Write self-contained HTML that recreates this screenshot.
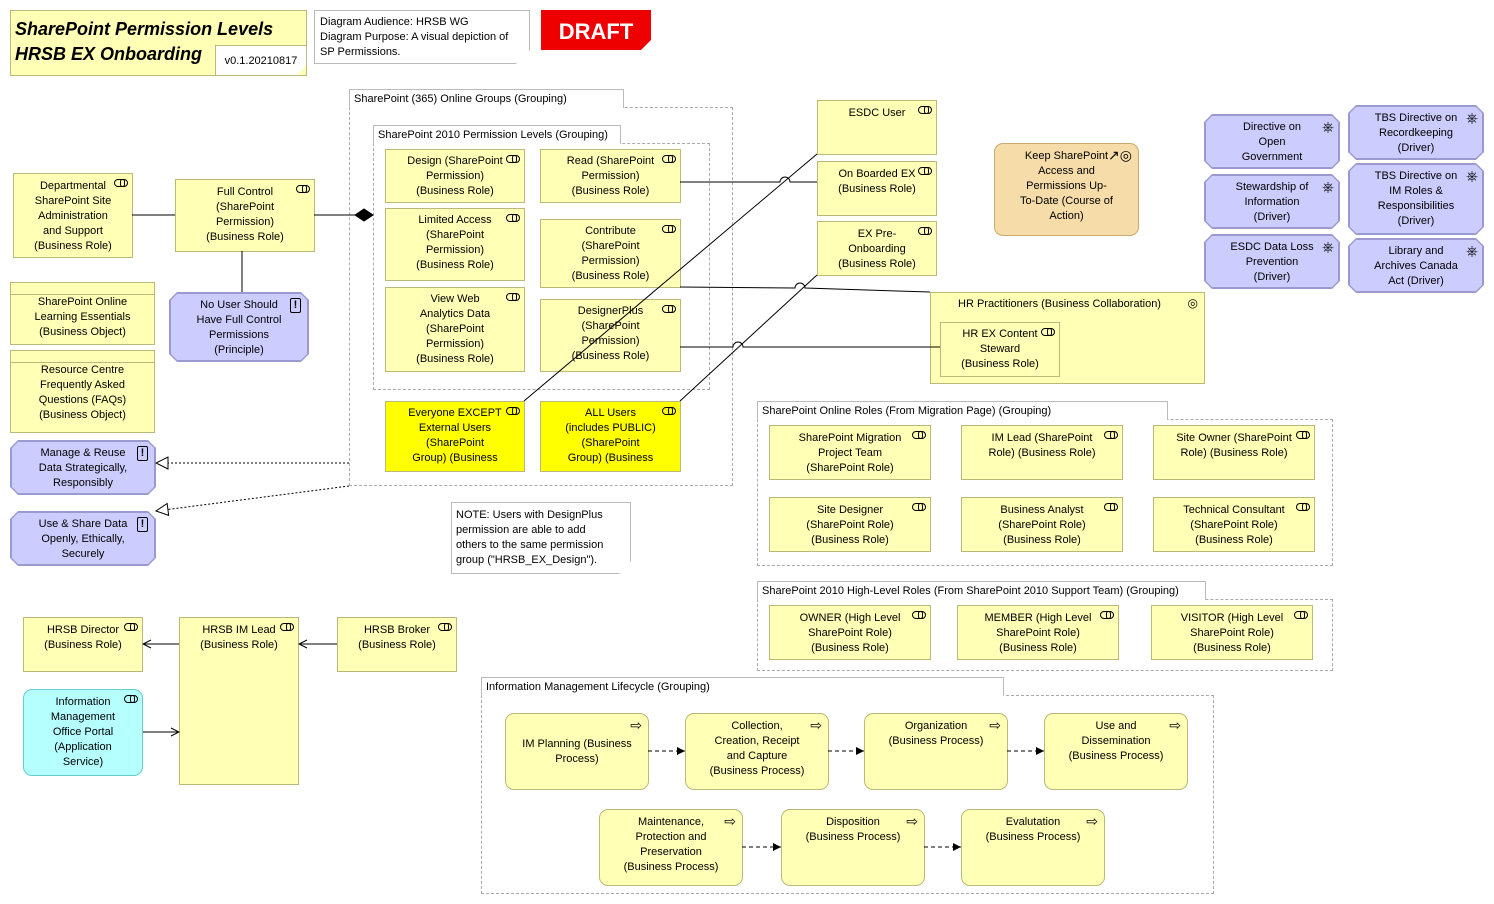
<!DOCTYPE html>
<html><head><meta charset="utf-8"><style>
body{margin:0;width:1494px;height:904px;background:#fff;position:relative;overflow:hidden;font-family:"Liberation Sans",sans-serif;font-size:11px;color:#000}
.b{position:absolute;box-sizing:border-box;background:#ffffb5;border:1px solid #b9b97a;text-align:center;line-height:15px;padding:3px 16px 0 16px}
.y{background:#ffff00}
.p{background:#ccccff;border-color:#9a9ad0;clip-path:polygon(8px 0,calc(100% - 8px) 0,100% 8px,100% calc(100% - 8px),calc(100% - 8px) 100%,8px 100%,0 calc(100% - 8px),0 8px)}
.pb{position:absolute;background:#9a9ad0;clip-path:polygon(8px 0,calc(100% - 8px) 0,100% 8px,100% calc(100% - 8px),calc(100% - 8px) 100%,8px 100%,0 calc(100% - 8px),0 8px)}
.r{border-radius:9px}
.g{position:absolute;box-sizing:border-box;border:1px dashed #aaa}
.gt{position:absolute;box-sizing:border-box;border:1px solid #bbb;border-bottom:none;background:#fff;padding:2px 4px;line-height:14px;white-space:nowrap}
.ic{position:absolute;right:4px;top:5px;width:14px;height:8px;border:1px solid #000;border-radius:4px;box-sizing:border-box}
.ic:after{content:"";position:absolute;right:2px;top:-1px;width:5px;height:8px;border:1px solid #000;border-radius:4px;box-sizing:border-box}
.ex{position:absolute;right:6px;top:4px;width:9px;height:13px;border:1px solid #000;border-radius:2px;font-weight:bold;font-size:11px;line-height:13px;text-align:center}
.dr{position:absolute;right:4px;top:4px;font-size:15px;line-height:15px}
.pr{position:absolute;right:6px;top:4px;font-size:14px;line-height:14px}
.v{display:flex;align-items:center;justify-content:center;padding-top:0}
.nw{white-space:nowrap;padding-left:4px!important;padding-right:4px!important}
.clip{height:60px;overflow:hidden}
</style></head><body>

<!-- title -->
<div class="b" style="left:10px;top:10px;width:297px;height:66px;text-align:left;padding:6px 4px;font-weight:bold;font-style:italic;font-size:18px;line-height:25px">SharePoint Permission Levels<br>HRSB EX Onboarding</div>
<div class="b" style="left:215px;top:45px;width:92px;height:31px;background:#fff;padding:8px 0 0;font-size:11px;clip-path:polygon(0 0,100% 0,100% 60%,calc(100% - 10px) 100%,0 100%)">v0.1.20210817</div>
<div class="b" style="left:314px;top:10px;width:216px;height:54px;background:#fff;border-color:#bbb;text-align:left;padding:4px 5px;clip-path:polygon(0 0,100% 0,100% 75%,calc(100% - 14px) 100%,0 100%)">Diagram Audience: HRSB WG<br>Diagram Purpose: A visual depiction of SP Permissions.</div>
<div style="position:absolute;left:541px;top:10px;width:110px;height:40px;background:#ee0000;color:#fff;font-weight:bold;font-size:22px;line-height:44px;text-align:center;clip-path:polygon(0 0,100% 0,100% 75%,calc(100% - 10px) 100%,0 100%)">DRAFT</div>

<!-- groups -->
<div class="g" style="left:349px;top:107px;width:384px;height:379px"></div>
<div class="gt" style="left:349px;top:89px;width:275px;height:19px">SharePoint (365) Online Groups (Grouping)</div>
<div class="g" style="left:373px;top:143px;width:337px;height:247px"></div>
<div class="gt" style="left:373px;top:125px;width:248px;height:19px">SharePoint 2010 Permission Levels (Grouping)</div>
<div class="g" style="left:757px;top:419px;width:576px;height:147px"></div>
<div class="gt" style="left:757px;top:401px;width:411px;height:19px">SharePoint Online Roles (From Migration Page) (Grouping)</div>
<div class="g" style="left:757px;top:599px;width:576px;height:72px"></div>
<div class="gt" style="left:757px;top:581px;width:449px;height:19px">SharePoint 2010 High-Level Roles (From SharePoint 2010 Support Team) (Grouping)</div>
<div class="g" style="left:481px;top:695px;width:733px;height:199px"></div>
<div class="gt" style="left:481px;top:677px;width:523px;height:19px">Information Management Lifecycle (Grouping)</div>

<!-- left -->
<div class="b" style="left:13px;top:173px;width:120px;height:85px;padding-top:5px">Departmental SharePoint Site Administration and Support (Business Role)<span class="ic"></span></div>
<div class="b" style="left:175px;top:179px;width:140px;height:73px;padding:5px 22px 0">Full Control (SharePoint Permission) (Business Role)<span class="ic"></span></div>
<div class="b" style="left:10px;top:282px;width:145px;height:63px;padding-top:12px;background:linear-gradient(#ffffb5 11px,#b9b97a 11px,#b9b97a 12px,#ffffb5 12px)">SharePoint Online Learning Essentials (Business Object)</div>
<div class="b" style="left:10px;top:350px;width:145px;height:83px;padding-top:12px;background:linear-gradient(#ffffb5 11px,#b9b97a 11px,#b9b97a 12px,#ffffb5 12px)">Resource Centre Frequently Asked Questions (FAQs) (Business Object)</div>
<div class="pb" style="left:169px;top:292px;width:140px;height:70px"></div>
<div class="b p" style="left:170px;top:293px;width:138px;height:68px;padding-top:4px">No User Should Have Full Control Permissions (Principle)<span class="ex">!</span></div>
<div class="pb" style="left:10px;top:440px;width:146px;height:55px"></div>
<div class="b p" style="left:11px;top:441px;width:144px;height:53px;padding-top:4px">Manage &amp; Reuse Data Strategically, Responsibly<span class="ex">!</span></div>
<div class="pb" style="left:10px;top:511px;width:146px;height:55px"></div>
<div class="b p" style="left:11px;top:512px;width:144px;height:53px;padding-top:4px">Use &amp; Share Data Openly, Ethically, Securely<span class="ex">!</span></div>

<!-- permission levels -->
<div class="b" style="left:385px;top:149px;width:140px;height:54px;padding:4px 18px 0">Design (SharePoint Permission) (Business Role)<span class="ic"></span></div>
<div class="b" style="left:540px;top:149px;width:141px;height:54px;padding:4px 22px 0">Read (SharePoint Permission) (Business Role)<span class="ic"></span></div>
<div class="b" style="left:385px;top:208px;width:140px;height:73px;padding:4px 22px 0">Limited Access (SharePoint Permission) (Business Role)<span class="ic"></span></div>
<div class="b" style="left:540px;top:219px;width:141px;height:69px;padding:4px 22px 0">Contribute (SharePoint Permission) (Business Role)<span class="ic"></span></div>
<div class="b" style="left:385px;top:287px;width:140px;height:85px;padding:4px 28px 0">View Web Analytics Data (SharePoint Permission) (Business Role)<span class="ic"></span></div>
<div class="b" style="left:540px;top:299px;width:141px;height:73px;padding:4px 22px 0">DesignerPlus (SharePoint Permission) (Business Role)<span class="ic"></span></div>
<div class="b y nw" style="left:385px;top:401px;width:140px;height:71px;padding-top:4px"><div class="clip">Everyone EXCEPT<br>External Users<br>(SharePoint<br>Group) (Business<br>Role)</div><span class="ic"></span></div>
<div class="b y nw" style="left:540px;top:401px;width:141px;height:71px;padding-top:4px"><div class="clip">ALL Users<br>(includes PUBLIC)<br>(SharePoint<br>Group) (Business<br>Role)</div><span class="ic"></span></div>

<!-- right column -->
<div class="b" style="left:817px;top:100px;width:120px;height:55px;padding-top:5px">ESDC User<span class="ic"></span></div>
<div class="b" style="left:817px;top:161px;width:120px;height:55px;padding-top:5px">On Boarded EX (Business Role)<span class="ic"></span></div>
<div class="b nw" style="left:817px;top:221px;width:120px;height:55px;padding-top:5px">EX Pre-<br>Onboarding<br>(Business Role)<span class="ic"></span></div>
<div class="b r" style="left:994px;top:143px;width:145px;height:93px;background:#f5dca8;border-color:#c8aa70;padding:5px 24px 0">Keep SharePoint Access and Permissions Up-To-Date (Course of Action)<span class="pr">↗◎</span></div>
<div class="b" style="left:930px;top:292px;width:275px;height:92px;text-align:left;padding:4px 0 0 27px">HR Practitioners (Business Collaboration)<span style="position:absolute;right:6px;top:3px;font-size:12px">◎</span></div>
<div class="b" style="left:940px;top:322px;width:120px;height:55px;padding-top:4px">HR EX Content Steward (Business Role)<span class="ic"></span></div>

<!-- drivers -->
<div class="pb" style="left:1204px;top:114px;width:136px;height:55px"></div>
<div class="b p nw" style="left:1205px;top:115px;width:134px;height:53px;padding-top:4px">Directive on<br>Open<br>Government<span class="dr">⎈</span></div>
<div class="pb" style="left:1204px;top:174px;width:136px;height:55px"></div>
<div class="b p nw" style="left:1205px;top:175px;width:134px;height:53px;padding-top:4px">Stewardship of<br>Information<br>(Driver)<span class="dr">⎈</span></div>
<div class="pb" style="left:1204px;top:234px;width:136px;height:55px"></div>
<div class="b p nw" style="left:1205px;top:235px;width:134px;height:53px;padding-top:4px">ESDC Data Loss<br>Prevention<br>(Driver)<span class="dr">⎈</span></div>
<div class="pb" style="left:1348px;top:105px;width:136px;height:55px"></div>
<div class="b p nw" style="left:1349px;top:106px;width:134px;height:53px;padding-top:4px">TBS Directive on<br>Recordkeeping<br>(Driver)<span class="dr">⎈</span></div>
<div class="pb" style="left:1348px;top:163px;width:136px;height:72px"></div>
<div class="b p nw" style="left:1349px;top:164px;width:134px;height:70px;padding-top:4px">TBS Directive on<br>IM Roles &amp;<br>Responsibilities<br>(Driver)<span class="dr">⎈</span></div>
<div class="pb" style="left:1348px;top:238px;width:136px;height:55px"></div>
<div class="b p nw" style="left:1349px;top:239px;width:134px;height:53px;padding-top:4px">Library and<br>Archives Canada<br>Act (Driver)<span class="dr">⎈</span></div>

<!-- online roles -->
<div class="b" style="left:769px;top:425px;width:162px;height:55px;padding:5px 22px 0">SharePoint Migration Project Team (SharePoint Role)<span class="ic"></span></div>
<div class="b" style="left:961px;top:425px;width:162px;height:55px;padding:5px 22px 0">IM Lead (SharePoint Role) (Business Role)<span class="ic"></span></div>
<div class="b" style="left:1153px;top:425px;width:162px;height:55px;padding:5px 20px 0">Site Owner (SharePoint Role) (Business Role)<span class="ic"></span></div>
<div class="b" style="left:769px;top:497px;width:162px;height:55px;padding:5px 26px 0">Site Designer (SharePoint Role) (Business Role)<span class="ic"></span></div>
<div class="b" style="left:961px;top:497px;width:162px;height:55px;padding:5px 26px 0">Business Analyst (SharePoint Role) (Business Role)<span class="ic"></span></div>
<div class="b" style="left:1153px;top:497px;width:162px;height:55px;padding:5px 22px 0">Technical Consultant (SharePoint Role) (Business Role)<span class="ic"></span></div>
<div class="b" style="left:769px;top:605px;width:162px;height:55px;padding:5px 26px 0">OWNER (High Level SharePoint Role) (Business Role)<span class="ic"></span></div>
<div class="b" style="left:957px;top:605px;width:162px;height:55px;padding:5px 26px 0">MEMBER (High Level SharePoint Role) (Business Role)<span class="ic"></span></div>
<div class="b" style="left:1151px;top:605px;width:162px;height:55px;padding:5px 26px 0">VISITOR (High Level SharePoint Role) (Business Role)<span class="ic"></span></div>

<!-- note -->
<div class="b" style="left:451px;top:502px;width:180px;height:72px;background:#fff;border-color:#bbb;text-align:left;padding:5px 4px;white-space:nowrap;clip-path:polygon(0 0,100% 0,100% 82%,calc(100% - 12px) 100%,0 100%)">NOTE: Users with DesignPlus<br>permission are able to add<br>others to the same permission<br>group ("HRSB_EX_Design").</div>

<!-- HRSB -->
<div class="b" style="left:23px;top:617px;width:120px;height:55px;padding-top:5px">HRSB Director (Business Role)<span class="ic"></span></div>
<div class="b" style="left:179px;top:617px;width:120px;height:168px;padding-top:5px">HRSB IM Lead (Business Role)<span class="ic"></span></div>
<div class="b" style="left:337px;top:617px;width:120px;height:55px;padding-top:5px">HRSB Broker (Business Role)<span class="ic"></span></div>
<div class="b r" style="left:23px;top:689px;width:120px;height:87px;background:#b5ffff;border-color:#6cc;padding:5px 22px 0">Information Management Office Portal (Application Service)<span class="ic" style="border-radius:5px"></span></div>

<!-- processes -->
<div class="b r v" style="left:505px;top:713px;width:144px;height:77px">IM Planning (Business Process)<span class="pr">⇨</span></div>
<div class="b r" style="left:685px;top:713px;width:144px;height:77px;padding:5px 22px 0">Collection, Creation, Receipt and Capture (Business Process)<span class="pr">⇨</span></div>
<div class="b r" style="left:864px;top:713px;width:144px;height:77px;padding-top:5px">Organization (Business Process)<span class="pr">⇨</span></div>
<div class="b r" style="left:1044px;top:713px;width:144px;height:77px;padding:5px 22px 0">Use and Dissemination (Business Process)<span class="pr">⇨</span></div>
<div class="b r" style="left:599px;top:809px;width:144px;height:77px;padding:5px 22px 0">Maintenance, Protection and Preservation (Business Process)<span class="pr">⇨</span></div>
<div class="b r" style="left:781px;top:809px;width:144px;height:77px;padding:5px 22px 0">Disposition (Business Process)<span class="pr">⇨</span></div>
<div class="b r" style="left:961px;top:809px;width:144px;height:77px;padding:5px 22px 0">Evalutation (Business Process)<span class="pr">⇨</span></div>

<svg width="1494" height="904" style="position:absolute;left:0;top:0;pointer-events:none">
<defs>
<marker id="op" markerWidth="14" markerHeight="14" refX="13" refY="7" orient="auto" markerUnits="userSpaceOnUse"><path d="M1,1 L13,7 L1,13 Z" fill="#fff" stroke="#000"/></marker>
<marker id="ar" markerWidth="10" markerHeight="10" refX="9" refY="5" orient="auto" markerUnits="userSpaceOnUse"><path d="M1,1 L9,5 L1,9" fill="none" stroke="#000"/></marker>
<marker id="fa" markerWidth="10" markerHeight="10" refX="9" refY="5" orient="auto" markerUnits="userSpaceOnUse"><path d="M1,1 L9,5 L1,9 Z" fill="#000"/></marker>
</defs>
<g stroke="#000" fill="none" stroke-width="1">
<line x1="132" y1="215" x2="175" y2="215"/>
<line x1="314" y1="215" x2="356" y2="215"/>
<path d="M355,215 L364,209 L373,215 L364,221 Z" fill="#000"/>
<line x1="242" y1="251" x2="242" y2="292"/>
<path d="M680,182 L780,182 A5,5 0 0 1 790,182 L817,182"/>
<path d="M680,287 L795,288 A5,5 0 0 1 805,288 L930,292"/>
<path d="M680,347 L733,347 A5,5 0 0 1 743,347 L940,347"/>
<line x1="524" y1="401" x2="817" y2="154"/>
<line x1="680" y1="401" x2="817" y2="275"/>
<line x1="349" y1="463" x2="156" y2="463" stroke-dasharray="2,2" marker-end="url(#op)"/>
<line x1="349" y1="486" x2="156" y2="511" stroke-dasharray="2,2" marker-end="url(#op)"/>
<line x1="179" y1="644" x2="143" y2="644" marker-end="url(#ar)"/>
<line x1="337" y1="644" x2="299" y2="644" marker-end="url(#ar)"/>
<line x1="143" y1="732" x2="179" y2="732" marker-end="url(#ar)"/>
<g stroke-dasharray="4,3">
<line x1="648" y1="751" x2="685" y2="751" marker-end="url(#fa)"/>
<line x1="828" y1="751" x2="864" y2="751" marker-end="url(#fa)"/>
<line x1="1007" y1="751" x2="1044" y2="751" marker-end="url(#fa)"/>
<line x1="742" y1="847" x2="781" y2="847" marker-end="url(#fa)"/>
<line x1="924" y1="847" x2="961" y2="847" marker-end="url(#fa)"/>
</g>
</g>
</svg>
</body></html>
